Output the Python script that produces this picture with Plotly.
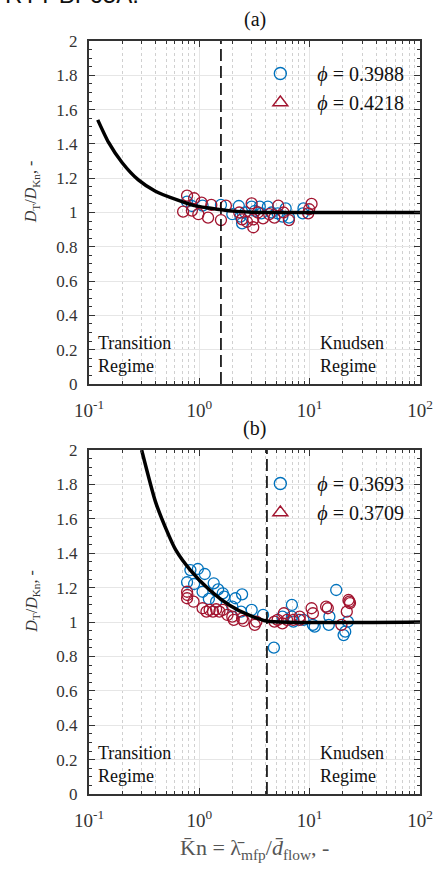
import plotly.graph_objects as go

# ---------------- data ----------------
# Panel (a)
a_blue_kn = [0.774, 0.856, 1.07, 1.57, 2.28, 2.36, 2.44, 2.98, 3.53, 4.18, 5.12, 6.06, 8.79, 8.67, 3.66, 5.66, 1.99, 6.5, 2.6, 3.2, 4.5]
a_blue_v = [1.063, 1.038, 1.04, 1.044, 1.038, 0.976, 0.937, 1.034, 1.034, 1.034, 0.995, 1.024, 1.024, 0.995, 0.995, 0.976, 0.99, 0.97, 1.0, 1.01, 1.0]
a_red_kn = [0.774, 0.897, 1.048, 1.284, 0.713, 0.856, 0.98, 1.20, 1.57, 1.74, 2.98, 2.44, 2.70, 3.08, 3.08, 3.78, 4.79, 5.19, 6.48, 10.4, 9.7, 9.9, 2.3, 3.4, 4.3, 5.8]
a_red_v = [1.098, 1.083, 1.057, 1.044, 1.005, 1.011, 0.990, 0.970, 0.956, 1.040, 1.053, 0.960, 0.946, 0.914, 0.960, 0.966, 0.970, 1.040, 0.956, 1.050, 0.995, 1.019, 1.0, 1.0, 0.99, 1.0]
a_curve_kn = [0.12, 0.15, 0.2, 0.28, 0.4, 0.63, 0.9, 1.23, 2.0, 3.0, 5.0, 100.0]
a_curve_v = [1.54, 1.41, 1.29, 1.19, 1.124, 1.073, 1.04, 1.026, 1.008, 1.002, 1.0, 1.0]
a_knee = 1.57
a_labels = ["<i>\u03d5</i> = 0.3988", "<i>\u03d5</i> = 0.4218"]

# Panel (b)
b_blue_kn = [0.83, 0.97, 1.12, 0.774, 0.897, 1.35, 1.48, 1.63, 1.07, 1.22, 1.42, 1.68, 2.12, 2.44, 1.99, 2.39, 2.98, 3.78, 4.74, 6.90, 6.90, 5.66, 8.79, 10.7, 11.1, 14.9, 15.1, 17.4, 20.3, 21.0, 22.2, 7.12]
b_blue_v = [1.302, 1.308, 1.279, 1.231, 1.221, 1.225, 1.190, 1.167, 1.176, 1.134, 1.118, 1.147, 1.138, 1.161, 1.089, 1.060, 1.070, 1.041, 0.851, 1.099, 1.031, 1.031, 1.012, 0.983, 0.973, 0.983, 1.031, 1.186, 0.924, 0.944, 1.002, 1.002]
b_red_kn = [0.774, 0.78, 0.774, 0.886, 1.07, 1.16, 1.24, 1.33, 1.42, 1.52, 1.63, 1.80, 1.99, 2.05, 2.44, 2.52, 3.18, 3.29, 4.79, 5.12, 5.66, 5.84, 6.24, 7.12, 8.12, 8.12, 10.4, 10.7, 14.1, 14.6, 19.4, 21.7, 22.5, 22.9, 23.2]
b_red_v = [1.176, 1.157, 1.138, 1.118, 1.080, 1.060, 1.070, 1.060, 1.074, 1.060, 1.070, 1.041, 1.031, 1.012, 1.021, 1.006, 0.983, 1.002, 1.002, 1.012, 0.992, 1.051, 1.012, 1.012, 1.031, 1.012, 1.080, 1.051, 1.089, 1.080, 0.983, 1.060, 1.128, 1.118, 1.110]
b_curve_kn = [0.30, 0.4, 0.5, 0.611, 0.828, 1.24, 1.86, 2.79, 4.05, 100.0]
b_curve_v = [2.0, 1.70, 1.54, 1.419, 1.302, 1.186, 1.099, 1.041, 1.006, 1.0]
b_knee = 4.1
b_labels = ["<i>\u03d5</i> = 0.3693", "<i>\u03d5</i> = 0.3709"]

x_tickvals = [0.1, 1, 10, 100]
x_ticktext = ["10<sup>-1</sup>", "10<sup>0</sup>", "10<sup>1</sup>", "10<sup>2</sup>"]
x_minor = [m * 10 ** e for e in (-1, 0, 1) for m in range(2, 10)]
y_tickvals = [0, 0.2, 0.4, 0.6, 0.8, 1, 1.2, 1.4, 1.6, 1.8, 2]
y_ticktext = ["0", "0.2", "0.4", "0.6", "0.8", "1", "1.2", "1.4", "1.6", "1.8", "2"]

BLUE = "#0072BD"
RED = "#A2142F"
AX = "#333333"
SERIF = "Liberation Serif"

W, H = 445, 871
ML, MR, MT, MB = 89, 15, 41, 77
PH = H - MT - MB


def py(p):
    """pixel row -> paper y"""
    return (H - MB - p) / PH


def px(p):
    return (p - ML) / (W - ML - MR)


fig = go.Figure()

panels = [
    ("x", "y", a_blue_kn, a_blue_v, a_red_kn, a_red_v, a_curve_kn, a_curve_v, a_labels, "legend"),
    ("x2", "y2", b_blue_kn, b_blue_v, b_red_kn, b_red_v, b_curve_kn, b_curve_v, b_labels, "legend2"),
]
for xa, ya, bk, bv, rk, rv, ck, cv, labels, lg in panels:
    fig.add_trace(go.Scatter(x=bk, y=bv, mode="markers", xaxis=xa, yaxis=ya, showlegend=False,
                             marker=dict(symbol="circle-open", size=11, color=BLUE, line=dict(width=1.3, color=BLUE))))
    fig.add_trace(go.Scatter(x=rk, y=rv, mode="markers", xaxis=xa, yaxis=ya, showlegend=False,
                             marker=dict(symbol="circle-open", size=11, color=RED, line=dict(width=1.3, color=RED))))
    fig.add_trace(go.Scatter(x=ck, y=cv, mode="lines", xaxis=xa, yaxis=ya, showlegend=False,
                             line=dict(color="black", width=3.5, shape="spline", smoothing=0.6)))
    fig.add_trace(go.Scatter(x=[None], y=[None], mode="markers", xaxis=xa, yaxis=ya, name=labels[0], legend=lg,
                             marker=dict(symbol="circle-open", size=12, color=BLUE, line=dict(width=1.4, color=BLUE))))
    fig.add_trace(go.Scatter(x=[None], y=[None], mode="markers", xaxis=xa, yaxis=ya, name=labels[1], legend=lg,
                             marker=dict(symbol="triangle-up-open", size=13, color=RED, line=dict(width=1.4, color=RED))))

xaxis_common = dict(
    type="log", range=[-1, 2], tickmode="array", tickvals=x_tickvals, ticktext=x_ticktext,
    ticks="inside", ticklen=6, tickwidth=1.2, tickcolor=AX,
    showline=True, linecolor=AX, linewidth=2, mirror="allticks",
    showgrid=True, gridcolor="#e6e6e6", gridwidth=1,
    minor=dict(tickmode="array", tickvals=x_minor, ticks="inside", ticklen=3, tickcolor=AX,
               showgrid=True, gridcolor="#d0d0d0", griddash="dot", gridwidth=1),
    tickfont=dict(family=SERIF, size=19, color="#333333"), ticklabelstandoff=8,
    zeroline=False,
)
yaxis_common = dict(
    range=[0, 2], tickmode="array", tickvals=y_tickvals, ticktext=y_ticktext,
    ticks="inside", ticklen=6, tickwidth=1.2, tickcolor=AX,
    showline=True, linecolor=AX, linewidth=2, mirror="allticks",
    showgrid=True, gridcolor="#e6e6e6", gridwidth=1,
    minor=dict(dtick=0.05, ticks="inside", ticklen=3, tickcolor=AX, showgrid=False),
    tickfont=dict(family=SERIF, size=17, color="#333333"), ticklabelstandoff=6,
    zeroline=False,
)

fig.update_layout(
    width=W, height=H, margin=dict(l=ML, r=MR, t=MT, b=MB),
    paper_bgcolor="white", plot_bgcolor="white",
    xaxis=dict(domain=[0, 1], anchor="y", **xaxis_common),
    yaxis=dict(domain=[py(384), 1], anchor="x", **yaxis_common),
    xaxis2=dict(domain=[0, 1], anchor="y2", **xaxis_common),
    yaxis2=dict(domain=[0, py(450)], anchor="x2", **yaxis_common),
    legend=dict(x=px(248), y=py(54), xanchor="left", yanchor="top", bgcolor="rgba(0,0,0,0)",
                itemwidth=64, tracegroupgap=0, font=dict(family=SERIF, size=20, color="#111111")),
    legend2=dict(x=px(248), y=py(464), xanchor="left", yanchor="top", bgcolor="rgba(0,0,0,0)",
                 itemwidth=64, tracegroupgap=0, font=dict(family=SERIF, size=20, color="#111111")),
    showlegend=True,
)

# vertical dashed regime boundaries
for xref, yref, knee in (("x", "y domain", a_knee), ("x2", "y2 domain", b_knee)):
    fig.add_shape(type="line", xref=xref, yref=yref, x0=knee, x1=knee, y0=0, y1=1,
                  line=dict(color="black", width=1.6, dash="12px,5px"))

ann = []
txt = dict(family=SERIF, size=18, color="#111111")
for top, bot, lab in ((41, 384, "(a)"), (450, 794, "(b)")):
    ann.append(dict(text=lab, xref="paper", yref="paper", x=px(260), y=py(top - 22), showarrow=False,
                    xanchor="center", yanchor="middle", font=dict(family=SERIF, size=20, color="#111111")))
    ann.append(dict(text="Transition<br>Regime", xref="paper", yref="paper", x=px(96), y=py(bot - 30),
                    showarrow=False, xanchor="left", yanchor="middle", align="left", font=txt))
    ann.append(dict(text="Knudsen<br>Regime", xref="paper", yref="paper", x=px(325), y=py(bot - 30),
                    showarrow=False, xanchor="left", yanchor="middle", align="left", font=txt))
    ann.append(dict(text="<i>D</i><sub>T</sub>/<i>D</i><sub>Kn</sub>, -", xref="paper", yref="paper",
                    x=px(30), y=py((top + bot) / 2 - 20), showarrow=False, textangle=-90,
                    xanchor="center", yanchor="middle", font=dict(family=SERIF, size=16, color="#333333")))

ann.append(dict(text="K\u0304n = \u03bb\u0304<sub>mfp</sub>/<i>d\u0304</i><sub>flow</sub>, -", xref="paper", yref="paper",
                x=px(260), y=py(849), showarrow=False, xanchor="center", yanchor="middle",
                font=dict(family=SERIF, size=22, color="#555555")))
ann.append(dict(text="RYT BF65A.", xref="paper", yref="paper", x=px(0), y=py(-6), showarrow=False,
                xanchor="left", yanchor="middle", font=dict(family="Liberation Sans", size=24, color="#111111")))
fig.update_layout(annotations=ann)

fig.write_html("out.html", config={"displayModeBar": False},
               post_script="document.body.style.margin='0';document.body.style.overflow='hidden';")
